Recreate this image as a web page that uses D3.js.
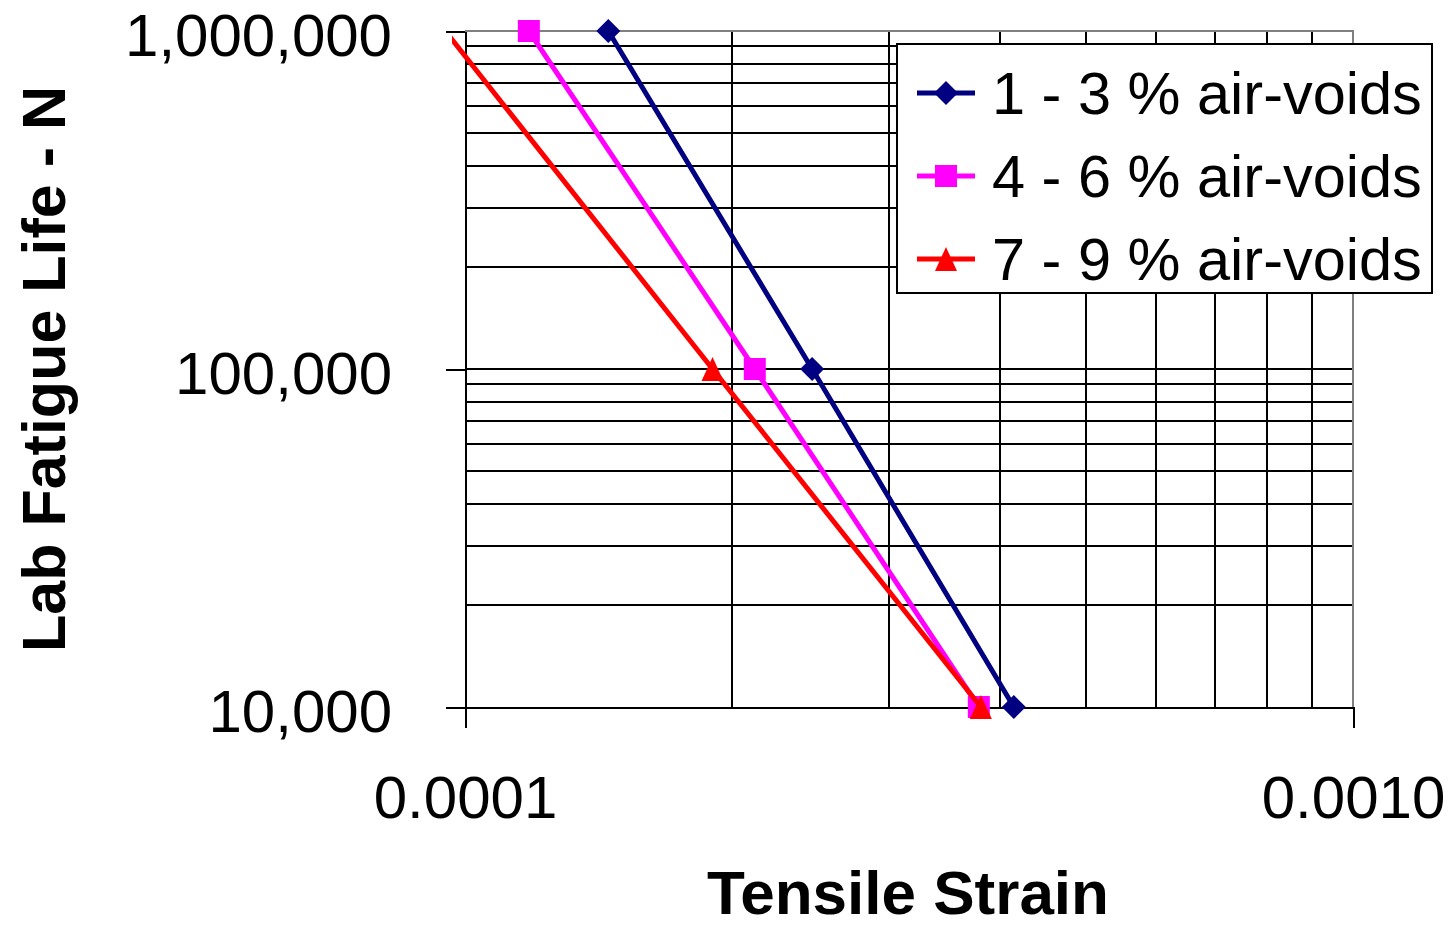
<!DOCTYPE html>
<html lang="en">
<head>
  <meta charset="UTF-8">
  <title>Lab Fatigue Life vs Tensile Strain</title>
  <script src="https://d3js.org/d3.v7.min.js"></script>
  <style>
    body {
      margin: 0;
      background: #fff;
      font-family: "Liberation Sans", Arial, sans-serif;
    }
    .axis text {
      font-size: 60px;
      fill: #000;
      font-family: "Liberation Sans", Arial, sans-serif;
    }
    .axis line,
    .axis path {
      stroke: #000;
      stroke-width: 2;
      shape-rendering: crispEdges;
    }
    .grid line {
      stroke: #000;
      stroke-width: 2;
      shape-rendering: crispEdges;
    }
  </style>
</head>
<body>
  <div id="chart"></div>

  <script>
    // Data (strain, cycles)
    const seriesNames = ["1 - 3 % air-voids", "4 - 6 % air-voids", "7 - 9 % air-voids"];
    const seriesColors = ["#000080", "#ff00ff", "#ff0000"];
    const seriesMarkers = ["diamond", "square", "triangle"];

    const strain13 = [1.45e-4, 2.46e-4, 4.15e-4];
    const life13 = [1000000, 100000, 10000];

    const strain46 = [1.18e-4, 2.12e-4, 3.79e-4];
    const life46 = [1000000, 100000, 10000];

    const strain79 = [9.5e-5, 1.9e-4, 3.81e-4];
    const life79 = [1000000, 100000, 10000];

    const xTickValues = [0.0001, 0.001];
    const xTickLabels = ["0.0001", "0.0010"];
    const yTickValues = [10000, 100000, 1000000];
    const yTickLabels = ["10,000", "100,000", "1,000,000"];

    const width = 1450;
    const height = 927;
    const margin = { top: 31, right: 97, bottom: 220, left: 465 };

    const x = d3.scaleLog()
      .domain([1e-4, 1e-3])
      .range([margin.left, width - margin.right]);

    const y = d3.scaleLog()
      .domain([1e4, 1e6])
      .range([height - margin.bottom, margin.top]);

    const svg = d3.select("#chart")
      .append("svg")
      .attr("width", width)
      .attr("height", height);

    // gridlines (every minor log step)
    const grid = svg.append("g").attr("class", "grid");
    grid.selectAll(".hgrid")
      .data(y.ticks().filter(d => d > 1e4 && d < 1e6))
      .enter()
      .append("line")
      .attr("x1", x.range()[0])
      .attr("x2", x.range()[1])
      .attr("y1", d => y(d))
      .attr("y2", d => y(d));

    grid.selectAll(".vgrid")
      .data(x.ticks().filter(d => d > 1.01e-4 && d < 0.99e-3))
      .enter()
      .append("line")
      .attr("x1", d => x(d))
      .attr("x2", d => x(d))
      .attr("y1", y.range()[0])
      .attr("y2", y.range()[1]);

    // top and right border (grey)
    svg.append("path")
      .attr("d", `M${x.range()[0]},${y.range()[1]}H${x.range()[1]}V${y.range()[0]}`)
      .attr("fill", "none")
      .attr("stroke", "#808080")
      .attr("stroke-width", 2)
      .attr("shape-rendering", "crispEdges");

    // axes
    const xAxis = d3.axisBottom(x)
      .tickValues(xTickValues)
      .tickFormat((d, i) => xTickLabels[i])
      .tickSize(21)
      .tickSizeOuter(0)
      .tickPadding(47);

    svg.append("g")
      .attr("class", "axis")
      .attr("transform", `translate(0,${y.range()[0]})`)
      .call(xAxis);

    const yAxis = d3.axisLeft(y)
      .tickValues(yTickValues)
      .tickFormat((d, i) => yTickLabels[i])
      .tickSize(19)
      .tickSizeOuter(0)
      .tickPadding(54);

    svg.append("g")
      .attr("class", "axis")
      .attr("transform", `translate(${x.range()[0]},0)`)
      .call(yAxis)
      .selectAll("text")
      .attr("dy", "0.4em");

    // axis titles
    svg.append("text")
      .attr("x", 908)
      .attr("y", 914)
      .attr("text-anchor", "middle")
      .style("font-size", "62px")
      .style("font-weight", "bold")
      .text("Tensile Strain");

    svg.append("text")
      .attr("transform", "translate(65,369) rotate(-90)")
      .attr("text-anchor", "middle")
      .style("font-size", "61px")
      .style("font-weight", "bold")
      .text("Lab Fatigue Life - N");

    // marker shapes
    function markerPath(type) {
      if (type === "diamond") return "M0,-12L12,0L0,12L-12,0Z";
      if (type === "square") return "M-11,-11H11V11H-11Z";
      return "M0,-12L11,12H-11Z";
    }

    svg.append("clipPath")
      .attr("id", "clip")
      .append("rect")
      .attr("x", 452)
      .attr("y", 0)
      .attr("width", width)
      .attr("height", height);

    const series = [
      { strain: strain13, life: life13 },
      { strain: strain46, life: life46 },
      { strain: strain79, life: life79 }
    ];

    const line = d3.line()
      .x(d => x(d[0]))
      .y(d => y(d[1]));

    series.forEach((s, i) => {
      const pts = s.strain.map((v, j) => [v, s.life[j]]);
      svg.append("path")
        .datum(pts)
        .attr("d", line)
        .attr("clip-path", "url(#clip)")
        .attr("fill", "none")
        .attr("stroke", seriesColors[i])
        .attr("stroke-width", 5);

      svg.selectAll(".m" + i)
        .data(pts.filter(p => p[0] >= 1e-4))
        .enter()
        .append("path")
        .attr("class", "m" + i)
        .attr("transform", p => `translate(${x(p[0])},${y(p[1])})`)
        .attr("d", markerPath(seriesMarkers[i]))
        .attr("fill", seriesColors[i]);
    });

    // legend
    const legend = svg.append("g").attr("transform", "translate(897,44)");
    legend.append("rect")
      .attr("width", 535)
      .attr("height", 249)
      .attr("fill", "#fff")
      .attr("stroke", "#000")
      .attr("stroke-width", 2)
      .attr("shape-rendering", "crispEdges");

    const rows = legend.selectAll(".row")
      .data(seriesNames)
      .enter()
      .append("g")
      .attr("transform", (d, i) => `translate(0,${49 + i * 83})`);

    rows.append("line")
      .attr("x1", 20)
      .attr("x2", 78)
      .attr("stroke", (d, i) => seriesColors[i])
      .attr("stroke-width", 5);

    rows.append("path")
      .attr("transform", "translate(49,0)")
      .attr("d", (d, i) => markerPath(seriesMarkers[i]))
      .attr("fill", (d, i) => seriesColors[i]);

    rows.append("text")
      .attr("x", 95)
      .attr("dy", "0.35em")
      .style("font-size", "59.5px")
      .text(d => d);
  </script>
</body>
</html>
